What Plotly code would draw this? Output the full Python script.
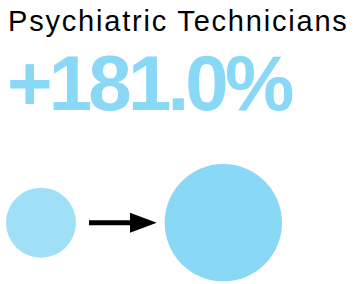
import plotly.graph_objects as go

# Data
title_text = "Psychiatric Technicians"
categories = ["Before", "After"]
values = [100.0, 281.0]
pct_change = 181.0
circle_colors = ["#9FE0F6", "#89D8F6"]

W, H = 357, 284

def px_x(px):
    return px / W

def px_y(py):
    return 1 - py / H

fig = go.Figure()
fig.add_trace(go.Scatter(
    x=categories,
    y=[0, 0],
    mode="markers",
    marker=dict(
        size=values,
        sizemode="area",
        sizeref=values[0] / (2 * 35 ** 2),
        color=circle_colors,
        line=dict(width=0),
        opacity=1,
    ),
    hoverinfo="skip",
    showlegend=False,
))

# arrow (decoration)
fig.add_shape(type="line", xref="paper", yref="paper",
              x0=px_x(89), x1=px_x(132), y0=px_y(222.8), y1=px_y(222.8),
              line=dict(color="black", width=5))
fig.add_shape(type="path", xref="paper", yref="paper",
              path=f"M{px_x(130)},{px_y(212.7)} L{px_x(156.7)},{px_y(222.7)} L{px_x(130)},{px_y(232.7)} Z",
              fillcolor="black", line=dict(width=0))

fig.add_annotation(text=title_text, xref="paper", yref="paper",
                   x=px_x(6), y=px_y(3), xanchor="left", yanchor="top",
                   showarrow=False,
                   font=dict(family="Liberation Sans, Arial, sans-serif", size=29, color="#000000"))
fig.add_annotation(text=f"+{pct_change:.1f}%", xref="paper", yref="paper",
                   x=px_x(5), y=px_y(37), xanchor="left", yanchor="top",
                   showarrow=False,
                   font=dict(family="Liberation Sans, Arial, sans-serif", size=78, color="#89D8F6", weight="bold"))

fig.update_layout(
    width=W, height=H,
    margin=dict(l=0, r=0, t=0, b=0),
    paper_bgcolor="white", plot_bgcolor="white",
    xaxis=dict(type="category", range=[-0.2249, 1.7334], visible=False, fixedrange=True),
    yaxis=dict(range=[-61.3, 222.7], visible=False, fixedrange=True),
)

post = (
    "document.body.style.margin='0';document.body.style.overflow='hidden';"
    "var t=document.querySelectorAll('text.annotation-text');"
    "var sp=['1.8px','-3.8px'];"
    "for(var i=0;i<t.length&&i<2;i++){var b=t[i].getBBox();"
    "t[i].setAttribute('text-anchor','start');t[i].setAttribute('x',b.x);"
    "t[i].style.letterSpacing=sp[i];}"
)
fig.write_html("out.html", config={"displayModeBar": False, "staticPlot": True}, post_script=post)
